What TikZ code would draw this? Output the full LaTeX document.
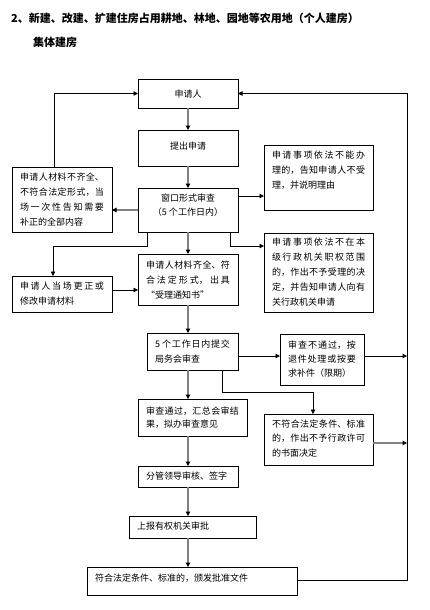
\documentclass[tikz,border=0pt]{standalone}
\usepackage{fontspec}
\setmainfont{Noto Sans CJK SC}
\usetikzlibrary{arrows.meta}
\XeTeXlinebreaklocale "zh"
\XeTeXlinebreakskip=0pt plus 5pt
\tolerance=10000
\hbadness=10000
\newcommand\fcbox[9]{%
  \pgfmathsetmacro\bw{#4-#2}%
  \pgfmathsetmacro\bh{#5-#3}%
  \pgfmathsetmacro\tw{#4-#2-16}%
  \node[boxsty, minimum width=\bw pt, minimum height=\bh pt] (#1) at ({(#2+#4)/2},{(#3+#5)/2}) {};
  \node[txtsty, text width=\tw pt, anchor=north west, font=\fontsize{9}{#7}\selectfont, #8] (#1t) at ({#2+8},{#3+#6}) {#9};
}
\tikzset{
  boxsty/.style={draw=black, line width=0.8pt, inner sep=0pt, outer sep=0pt},
  txtsty/.style={inner sep=0pt, outer sep=0pt, align=justify},
  ctxt/.style={inner sep=0pt, align=center, font=\fontsize{9}{14}\selectfont},
  tipsty/.style={-{Triangle[length=4.5pt,width=4.5pt,color=black]}},
  garr/.style={tipsty, draw=black!50, line width=1.6pt},
  barr/.style={tipsty, draw=black, line width=0.8pt},
}
\begin{document}
\begin{tikzpicture}[x=1pt,y=-1pt]
\useasboundingbox[fill=white] (0,0) rectangle (430,610);
\node[anchor=west, inner sep=0pt, font=\fontsize{11}{13}\selectfont\bfseries] (title1) at (11,18) {2、新建、改建、扩建住房占用耕地、林地、园地等农用地（个人建房）};
\node[anchor=west, inner sep=0pt, font=\fontsize{11}{13}\selectfont\bfseries] (title2) at (33,42) {集体建房};

\node[boxsty, minimum width=100pt, minimum height=29pt] (A) at (188,93.5) {};
\node[ctxt] (Alabel) at ([yshift=-1pt]A.center) {申请人};
\node[boxsty, minimum width=100pt, minimum height=36pt] (B) at (188,148) {};
\node[ctxt] (Blabel) at ([yshift=2pt]B.center) {提出申请};
\node[boxsty, minimum width=100pt, minimum height=44pt] (D) at (188,210) {};
\node[ctxt] (Dlabel) at ([yshift=5pt]D.center) {窗口形式审查\\（5 个工作日内）};

\fcbox{C}{12}{167}{112}{232}{5.5}{15}{}{申请人材料不齐全、\linebreak 不符合法定形式，当\linebreak 场一次性告知需要\linebreak 补正的全部内容}
\fcbox{E}{264}{145}{373}{210}{5.5}{15}{}{申请事项依法不能办\linebreak 理的，告知申请人不受\linebreak 理，并说明理由}
\fcbox{F}{264}{233}{373}{312}{4.5}{15}{}{申请事项依法不在本\linebreak 级行政机关职权范围\linebreak 的，作出不予受理的决\linebreak 定，并告知申请人向有\linebreak 关行政机关申请}
\fcbox{G}{12}{276}{112}{312}{6}{15}{}{申请人当场更正或\linebreak 修改申请材料}
\fcbox{H}{138}{254}{238}{305}{6.5}{15}{}{申请人材料齐全、符\linebreak 合法定形式，出具\linebreak “受理通知书”}
\fcbox{I}{147}{333}{238}{370}{6.5}{15}{}{5 个工作日内提交\linebreak 局务会审查}
\fcbox{J}{280}{334}{364}{385}{6.5}{14}{}{审查不通过，按\linebreak 退件处理或按要\linebreak 求补件（限期）}
\fcbox{K}{138}{399}{247}{436}{7.5}{13}{}{审查通过，汇总会审结\linebreak 果，拟办审查意见}
\fcbox{L}{264}{414}{373}{465}{5.5}{14.5}{}{不符合法定条件、标准\linebreak 的，作出不予行政许可\linebreak 的书面决定}
\fcbox{M}{138}{466}{238}{487}{5.5}{15}{}{分管领导审核、签字}
\fcbox{N}{129}{516}{256}{538}{6}{15}{}{上报有权机关审批}
\fcbox{O}{87}{567}{297}{595}{6.5}{15}{}{符合法定条件、标准的，颁发批准文件}

\coordinate (rail) at (407,0);

% gray vertical flow
\draw[garr] (A.south) -- (B.north);
\draw[garr] (B.south) -- (D.north);
\draw[garr] (D.west) -- (D.west -| C.east);
\draw[garr] (D.south) -- (H.north);
\draw[garr] (H.south) -- (H.south |- I.north);
\draw[garr] (H.south |- I.south) -- (H.south |- K.north);
\draw[garr] (H.south |- K.south) -- (M.north);
\draw[garr] (M.south) -- (M.south |- N.north);
\draw[garr] (M.south |- N.south) -- (M.south |- O.north);
\draw[garr] ([yshift=-3.5pt]L.east) -- ([yshift=-3.5pt]L.east -| rail);

% black connectors
\draw[barr] ([xshift=42pt]C.north west) |- (A.west);
\draw[barr] ([yshift=14pt]D.east) -- ([yshift=14pt]D.east -| E.west);
\draw[barr] ([xshift=9pt]D.south west) -- ++(0,-14pt) -| ([xshift=41pt]G.north west);
\draw[barr] ([xshift=-8pt]D.south east) |- ([yshift=26.5pt]F.west);
\draw[barr] ([yshift=4pt]G.east) -- ([yshift=4pt]G.east -| H.west);
\draw[barr] ([yshift=-4.5pt]I.east) -- ([yshift=-4.5pt]I.east -| J.west);
\draw[barr] ([yshift=3.5pt]J.east) -- ([yshift=3.5pt]J.east -| rail);
\draw[barr] ([xshift=-16pt]I.south east) -- ++(0,-22pt) -| ([xshift=-5.5pt]L.north);
\draw[barr] ([yshift=1pt]O.east) -| (rail |- A.east) -- (A.east);
\end{tikzpicture}
\end{document}
